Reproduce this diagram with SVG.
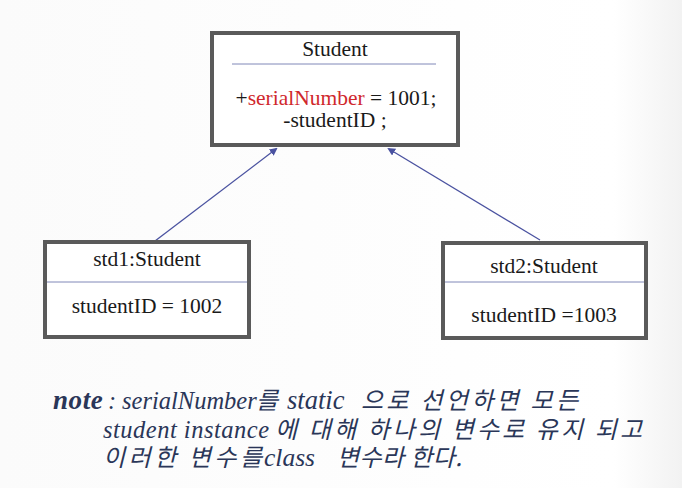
<svg xmlns="http://www.w3.org/2000/svg" width="682" height="488" viewBox="0 0 682 488">
<defs>
<linearGradient id="bg" x1="0" y1="0" x2="1" y2="0">
<stop offset="0" stop-color="#fbfbfb"/>
<stop offset="0.9" stop-color="#ffffff"/>
<stop offset="1" stop-color="#f2f2f2"/>
</linearGradient>
<marker id="arr" markerWidth="8" markerHeight="8" refX="6" refY="4" orient="auto" markerUnits="userSpaceOnUse">
<path d="M0,0 L8,4 L0,8 z" fill="#4a52a0"/>
</marker>
<style>
.box{fill:#ffffff;stroke:#5a5a5a;stroke-width:4}
.sep{stroke:#8088b8;stroke-width:1}
.t{font-family:'Liberation Serif','Times New Roman',serif;font-size:21.5px;fill:#1a1a1a;text-anchor:middle}
.red{fill:#d0282c}
.conn{stroke:#4a52a0;stroke-width:1.3;fill:none}
.note{font-family:'Liberation Serif',serif;font-size:24.5px;font-style:italic;fill:#2a3658}
.kr{font-family:'Noto Sans CJK KR',sans-serif;font-size:24px;font-style:italic;fill:#2a3658}
</style>
</defs>
<rect width="682" height="488" fill="url(#bg)"/>
<g id="connectors">
<line class="conn" x1="155" y1="241" x2="276" y2="149" marker-end="url(#arr)"/>
<line class="conn" x1="540" y1="240" x2="389" y2="149" marker-end="url(#arr)"/>
</g>
<g id="student">
<rect class="box" x="212" y="33" width="246" height="112"/>
<line class="sep" x1="232" y1="64" x2="436" y2="64"/>
<text class="t" x="335" y="56">Student</text>
<text class="t" x="336" y="105">+<tspan class="red">serialNumber</tspan> = 1001;</text>
<text class="t" x="335" y="127">-studentID ;</text>
</g>
<g id="std1">
<rect class="box" x="45" y="242" width="204" height="95"/>
<line class="sep" x1="47" y1="282" x2="247" y2="282"/>
<text class="t" x="147" y="266">std1:Student</text>
<text class="t" x="147" y="313">studentID = 1002</text>
</g>
<g id="std2">
<rect class="box" x="443" y="243" width="203" height="95"/>
<line class="sep" x1="445" y1="282" x2="644" y2="282"/>
<text class="t" x="544" y="273">std2:Student</text>
<text class="t" x="544" y="322">studentID =1003</text>
</g>
<g id="note">
<text class="note" x="53" y="409" style="font-weight:bold;font-size:27px;letter-spacing:0.6px">note</text>
<text class="note" x="108" y="409">:</text>
<text class="note" x="122" y="409">serialNumber</text>
<text class="kr" x="256" y="409">를</text>
<text class="note" x="287" y="409" style="font-size:26.5px">static</text>
<text class="kr" x="361" y="409" textLength="217" lengthAdjust="spacing">으로 선언하면 모든</text>
<text class="note" x="103" y="438" textLength="166" lengthAdjust="spacing">student instance</text>
<text class="kr" x="275" y="438" textLength="367" lengthAdjust="spacing">에 대해 하나의 변수로 유지 되고</text>
<text class="kr" x="103" y="466" textLength="159" lengthAdjust="spacing">이러한 변수를</text>
<text class="note" x="264" y="466" style="font-size:25.5px">class</text>
<text class="kr" x="337" y="466" textLength="125" lengthAdjust="spacing">변수라 한다.</text>
</g>
</svg>
